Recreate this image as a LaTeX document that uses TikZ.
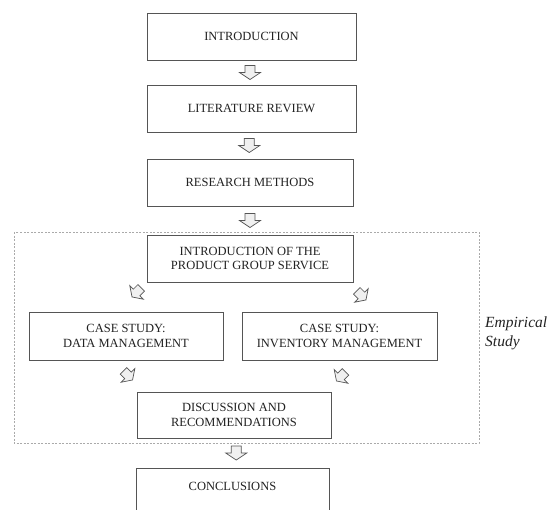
\documentclass[tikz,border=0pt]{standalone}
\usepackage{fontspec}
\setmainfont{Liberation Serif}
\usetikzlibrary{calc}
\definecolor{boxline}{HTML}{555555}
\definecolor{arrowfill}{HTML}{F0F0F0}
\definecolor{groupline}{HTML}{AAAAAA}
\definecolor{labeltext}{HTML}{222222}
\tikzset{
  stagebox/.style={draw=boxline, line width=0.8pt, fill=white, align=center, text=labeltext,
    font=\fontsize{12.5}{14.5}\selectfont, inner sep=2pt},
  grouprect/.style={draw=groupline, line width=0.6pt, dash pattern=on 2pt off 1.5pt},
  blockarrow/.style={draw=boxline, fill=arrowfill, line width=0.7pt, line join=miter},
  sidelabel/.style={font=\fontsize{15.5}{19}\selectfont\itshape, align=left, anchor=north west, inner sep=0pt, text=labeltext}
}
% hollow block arrow pointing along the given angle, centred on a point, scaled
\newcommand{\flowarrow}[3][1]{%
  \begin{scope}[shift={#2}, rotate=#3, scale=#1]
    \draw[blockarrow] (-7,-5) -- (0,-5) -- (0,-10.5) -- (7,0) -- (0,10.5) -- (0,5) -- (-7,5) -- cycle;
  \end{scope}}
\begin{document}
\begin{tikzpicture}[x=1pt, y=-1pt]
  \useasboundingbox (0,0) rectangle (556,509);
  \clip (0,0) rectangle (556,509);

  % empirical study group
  \draw[grouprect] (14,232) rectangle (479,443);

  \node[stagebox, minimum width=209pt, minimum height=47pt] (intro) at (251.5,36.5) {INTRODUCTION};
  \node[stagebox, minimum width=209pt, minimum height=47pt] (lit) at (251.5,108.5) {LITERATURE REVIEW};
  \node[stagebox, minimum width=206pt, minimum height=47pt] (meth) at (250,182.5) {RESEARCH METHODS};
  \node[stagebox, minimum width=206pt, minimum height=47pt] (prod) at (250,258.5) {INTRODUCTION OF THE\\PRODUCT GROUP SERVICE};
  \node[stagebox, minimum width=194pt, minimum height=48pt] (data) at (126,336) {CASE STUDY:\\DATA MANAGEMENT};
  \node[stagebox, minimum width=195pt, minimum height=48pt] (inv) at (339.5,336) {CASE STUDY:\\INVENTORY MANAGEMENT};
  \node[stagebox, minimum width=194pt, minimum height=46pt] (disc) at (234,415) {DISCUSSION AND\\RECOMMENDATIONS};
  \node[stagebox, minimum width=193pt, minimum height=48pt, text depth=12pt] (concl) at (232.5,492) {CONCLUSIONS};

  \node[sidelabel] (emp) at (485,317) {Empirical\\Study};

  % flow arrows between stages
  \flowarrow{($(intro.south)!0.5!(lit.north)+(-1.5,0)$)}{-90}
  \flowarrow{($(lit.south)!0.5!(meth.north)+(-1.5,0)$)}{-90}
  \flowarrow{($(meth.south)!0.5!(prod.north)$)}{-90}
  \flowarrow[0.92]{($(prod.south west)+(-10,10)$)}{-135}
  \flowarrow[0.92]{($(prod.south east)+(8,13)$)}{-45}
  \flowarrow[0.92]{($(data.south)+(2,15)$)}{-45}
  \flowarrow[0.92]{($(inv.south)+(1.5,16)$)}{-135}
  \flowarrow{($(disc.south)!0.5!(concl.north)+(3,0)$)}{-90}
\end{tikzpicture}
\end{document}
